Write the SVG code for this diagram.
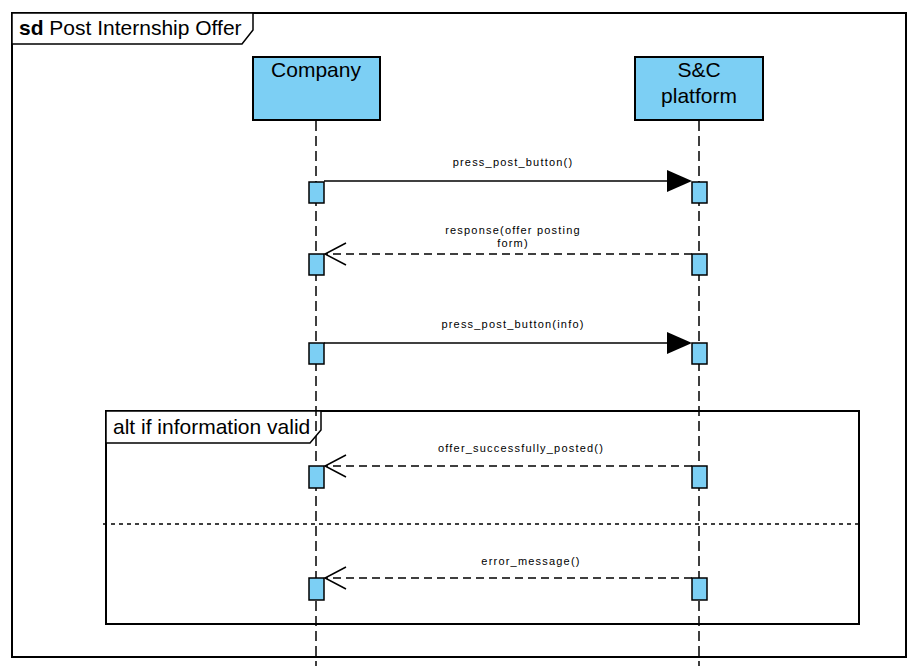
<svg xmlns="http://www.w3.org/2000/svg" width="919" height="666" viewBox="0 0 919 666">
<style>
.frame{fill:none;stroke:#000;stroke-width:2}
.tab{fill:#fff;stroke:#000;stroke-width:1.5}
.head{fill:#7ccff4;stroke:#000;stroke-width:2}
.act{fill:#7ccff4;stroke:#000;stroke-width:1.5}
.life{stroke:#000;stroke-width:1.5;stroke-dasharray:10,5;fill:none}
.msg{stroke:#000;stroke-width:1.5;fill:none}
.ret{stroke:#000;stroke-width:1.5;fill:none;stroke-dasharray:8,5}
.big{font-family:"Liberation Sans",Arial,sans-serif;font-size:21px;fill:#000}
.lbl{font-family:"Liberation Sans",Arial,sans-serif;font-size:11px;letter-spacing:1.2px;fill:#000;text-anchor:middle}
</style>
<rect width="919" height="666" fill="#fff"/>
<g id="frame">
<rect class="frame" x="12" y="13" width="894" height="644"/>
<path class="tab" d="M12,13 H253 V30 L242,44 H12 Z"/>
<text class="big" x="19" y="35"><tspan font-weight="bold">sd</tspan> Post Internship Offer</text>
</g>
<g id="alt">
<rect class="frame" x="106" y="411" width="753" height="213"/>
<path class="tab" d="M106,411 H321 V430 L310,443 H106 Z"/>
<text class="big" x="113" y="434">alt if information valid</text>
<line x1="103" y1="524" x2="859" y2="524" stroke="#000" stroke-width="1.5" stroke-dasharray="4,4"/>
</g>
<g id="company">
<line class="life" x1="316" y1="121" x2="316" y2="666"/>
<rect class="head" x="253" y="57" width="127" height="63"/>
<text class="big" x="316" y="77" text-anchor="middle">Company</text>
</g>
<g id="platform">
<line class="life" x1="699" y1="121" x2="699" y2="666"/>
<rect class="head" x="635" y="57" width="128" height="63"/>
<text class="big" x="699" y="77" text-anchor="middle">S&amp;C</text>
<text class="big" x="699" y="103" text-anchor="middle">platform</text>
</g>
<g id="activations">
<rect class="act" x="309" y="182" width="15" height="21"/>
<rect class="act" x="692" y="182" width="15" height="21"/>
<rect class="act" x="309" y="254" width="15" height="21"/>
<rect class="act" x="692" y="254" width="15" height="21"/>
<rect class="act" x="309" y="343" width="15" height="21"/>
<rect class="act" x="692" y="343" width="15" height="21"/>
<rect class="act" x="309" y="466" width="15" height="22"/>
<rect class="act" x="692" y="466" width="15" height="22"/>
<rect class="act" x="309" y="578" width="15" height="22"/>
<rect class="act" x="692" y="578" width="15" height="22"/>
</g>
<g id="connectors">
<line class="msg" x1="324" y1="181" x2="670" y2="181"/>
<path d="M667,170 L692,181 L667,192 Z" fill="#000"/>
<text class="lbl" x="513" y="166">press_post_button()</text>
<line class="ret" x1="692" y1="254" x2="326" y2="254"/>
<path class="msg" d="M346,243 L325,254 L346,265"/>
<text class="lbl" x="513" y="234">response(offer posting</text>
<text class="lbl" x="513" y="247">form)</text>
<line class="msg" x1="324" y1="343" x2="670" y2="343"/>
<path d="M667,332 L692,343 L667,354 Z" fill="#000"/>
<text class="lbl" x="513" y="328">press_post_button(info)</text>
<line class="ret" x1="692" y1="466" x2="326" y2="466"/>
<path class="msg" d="M346,455 L325,466 L346,477"/>
<text class="lbl" x="521" y="452">offer_successfully_posted()</text>
<line class="ret" x1="692" y1="578" x2="326" y2="578"/>
<path class="msg" d="M346,567 L325,578 L346,589"/>
<text class="lbl" x="531" y="565">error_message()</text>
</g>
</svg>
